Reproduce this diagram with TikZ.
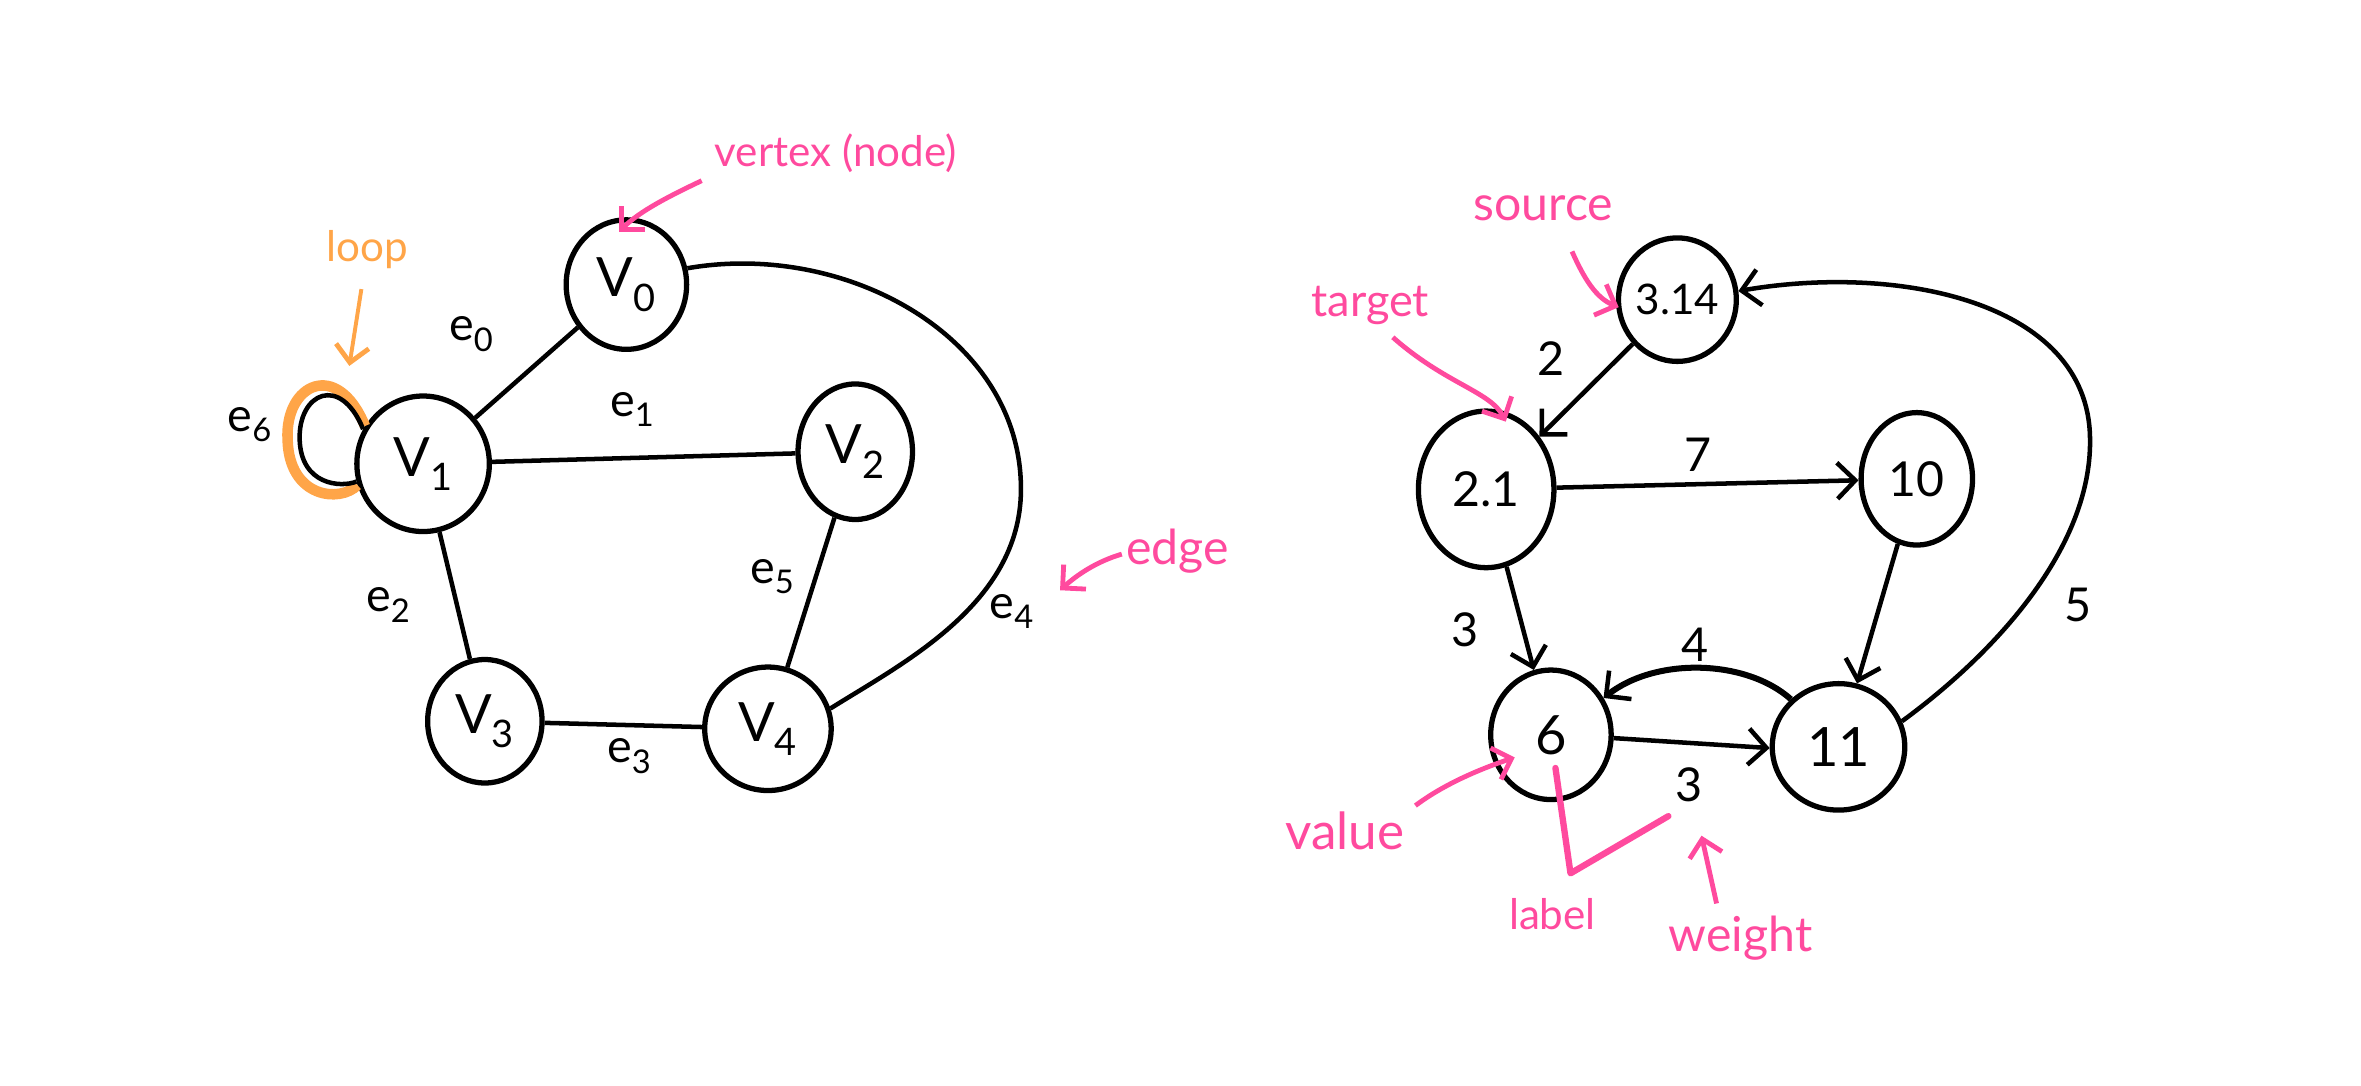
\documentclass[tikz,border=0pt]{standalone}
\usepackage{fontspec}
\setmainfont{Lato}
\usetikzlibrary{shapes.geometric,arrows.meta}
\definecolor{hpink}{HTML}{FF4A9E}
\definecolor{lorange}{HTML}{FFA548}
\begin{document}
\begin{tikzpicture}[x=1pt,y=-1pt,
  vert/.style={draw,ellipse,line width=3.5pt,inner sep=0pt,font=\fontsize{36}{40}\selectfont},
  edg/.style={line width=3pt},
  tip/.style={-{Straight Barb[length=12pt,width=24pt,line width=3pt]}},
  lbl/.style={font=\fontsize{31}{34}\selectfont},
  ann/.style={text=hpink,font=\fontsize{#1}{#1}\selectfont},
  ann/.default=28,
  pa/.style={draw=hpink,line width=3.2pt,-{Straight Barb[length=11pt,width=22pt,line width=3.2pt]}}
]
\useasboundingbox (0,0) rectangle (1568,721);
\fill[white] (0,0) rectangle (1568,721);

% ---------- left graph ----------
\node[vert,minimum width=80,minimum height=86] (v0) at (416,189) {V\textsubscript{0}};
\node[vert,minimum width=88,minimum height=90] (v1) at (281,308) {V\textsubscript{1}};
\node[vert,minimum width=76,minimum height=90] (v2) at (568,300) {V\textsubscript{2}};
\node[vert,minimum width=76,minimum height=82] (v3) at (322,479) {V\textsubscript{3}};
\node[vert,minimum width=84,minimum height=82] (v4) at (510,484) {V\textsubscript{4}};

\draw[edg] (v0) -- (v1);
\draw[edg] (v1) -- (v2);
\draw[edg] (v1) -- (v3);
\draw[edg] (v2) -- (v4);
\draw[edg] (v3) -- (v4);
\draw[edg] (v0.15) .. controls (560,160) and (676,222) .. (678,322)
                   .. controls (680,400) and (600,440) .. (v4.18);

% loop
\draw[lorange,line width=7pt] (v1.147) .. controls (224,238) and (189,255) .. (191,292)
                              .. controls (192,331) and (226,334) .. (v1.198);
\draw[edg] (v1.150) .. controls (226,248) and (198,261) .. (199,292)
            .. controls (200,322) and (226,324) .. (v1.195);

\node[lbl] (le0) at (313,222) {e\textsubscript{0}};
\node[lbl] (le1) at (420,272) {e\textsubscript{1}};
\node[lbl] (le2) at (258,402) {e\textsubscript{2}};
\node[lbl] (le3) at (418,502) {e\textsubscript{3}};
\node[lbl] (le4) at (672,406) {e\textsubscript{4}};
\node[lbl] (le5) at (513,383) {e\textsubscript{5}};
\node[lbl] (le6) at (166,282) {e\textsubscript{6}};

% annotations left
\node[ann=28,text=lorange] (aloop) at (244,166) {loop};
\coordinate (aloopS) at (240,192);
\coordinate (aloopE) at (232,243);
\draw[pa,draw=lorange,line width=2.6pt] (aloopS) -- (aloopE);

\node[ann=28] (avtx) at (555,102) {vertex (node)};
\coordinate (avtxS) at (466,120);
\coordinate (avtxE) at (411,154);
\draw[pa] (avtxS) .. controls (445,130) and (425,140) .. (avtxE);

\node[ann=32] (aedge) at (782,366) {edge};
\coordinate (aedgeS) at (745,368);
\coordinate (aedgeE) at (704,392);
\draw[pa] (aedgeS) .. controls (728,373) and (715,382) .. (aedgeE);

% ---------- right graph ----------
\node[vert,minimum width=72,minimum height=82,font=\fontsize{28}{32}\selectfont] (n314) at (1114,199) {3.14};
\node[vert,minimum width=90,minimum height=104,font=\fontsize{32}{36}\selectfont] (n21) at (987,325) {2.1};
\node[vert,minimum width=74,minimum height=88,font=\fontsize{32}{36}\selectfont] (n10) at (1273,318) {10};
\node[vert,minimum width=80,minimum height=86] (n6) at (1030,488) {6};
\node[vert,minimum width=88,minimum height=84] (n11) at (1221,496) {11};

\draw[edg,tip] (n314) -- (n21);
\draw[edg,tip] (n21) -- (n10);
\draw[edg,tip] (n21) -- (n6);
\draw[edg,tip] (n10) -- (n11);
\draw[edg,tip] (n11.22) .. controls (1330,430) and (1390,360) .. (1388,290)
                .. controls (1386,200) and (1260,175) .. (n314.8);
\draw[edg,line width=4pt,tip] (n11.135) .. controls (1160,438) and (1100,436) .. (n6.35);
\draw[edg,tip] (n6.-3) -- (n11.181);

\node[lbl] (w2) at (1030,238) {2};
\node[lbl] (w7) at (1128,302) {7};
\node[lbl] (w3a) at (973,418) {3};
\node[lbl] (w4) at (1126,428) {4};
\node[lbl] (w3b) at (1122,521) {3};
\node[lbl] (w5) at (1380,402) {5};

% annotations right
\node[ann=32] (asrc) at (1025,138) {source};
\coordinate (asrcS) at (1044,167);
\coordinate (asrcE) at (1075,204);
\draw[pa] (asrcS) .. controls (1052,185) and (1060,198) .. (asrcE);

\node[ann=30] (atgt) at (910,203) {target};
\coordinate (atgtS) at (925,224);
\coordinate (atgtE) at (1000,280);
\draw[pa] (atgtS) .. controls (960,255) and (990,260) .. (atgtE);

\node[ann=34] (aval) at (893,552) {value};
\coordinate (avalS) at (940,535);
\coordinate (avalE) at (1006,503);
\draw[pa] (avalS) .. controls (960,520) and (985,510) .. (avalE);

\node[ann=28] (albl) at (1031,607) {label};
\coordinate (alblA) at (1033,510);
\coordinate (alblB) at (1043,580);
\coordinate (alblC) at (1108,542);
\draw[hpink,line width=4.2pt,line join=round,line cap=round] (alblA) -- (alblB) -- (alblC);

\node[ann=32] (awgt) at (1156,623) {weight};
\coordinate (awgtS) at (1140,600);
\coordinate (awgtE) at (1130,555);
\draw[pa] (awgtS) -- (awgtE);
\end{tikzpicture}
\end{document}
